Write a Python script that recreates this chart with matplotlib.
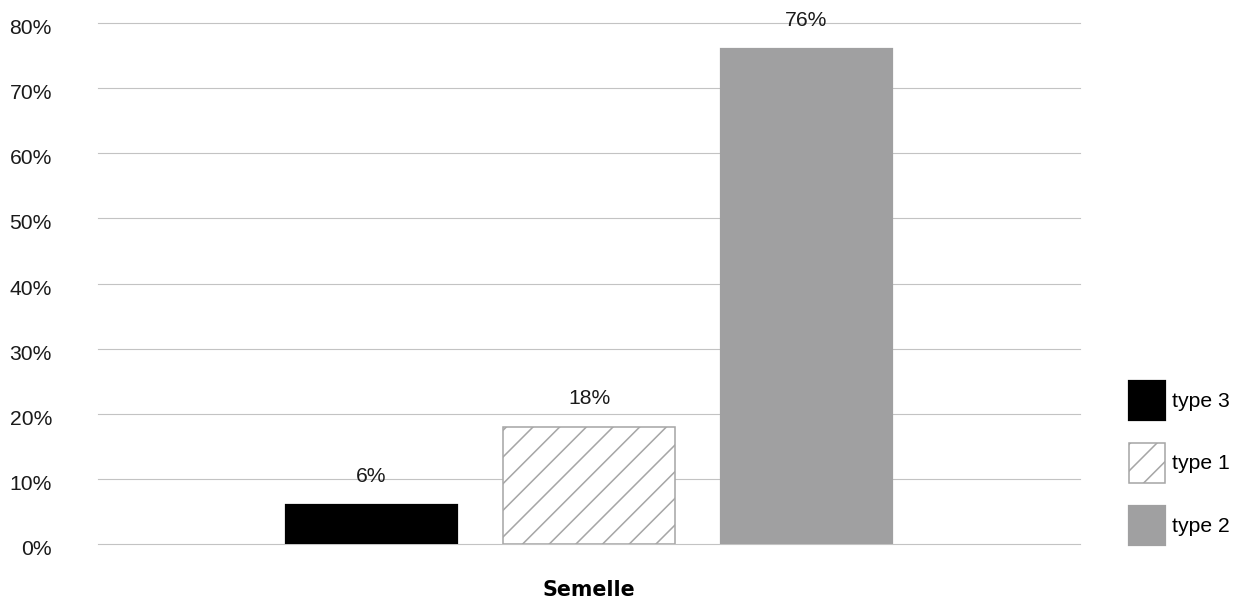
import matplotlib
matplotlib.use('Agg')
from matplotlib import pyplot as plt

# datos
categoria = 'Semelle'
series = ['type 3', 'type 1', 'type 2']
valores = [0.06, 0.18, 0.76]
etiquetas = ['6%', '18%', '76%']
marcas_y = [0, 0.1, 0.2, 0.3, 0.4, 0.5, 0.6, 0.7, 0.8]

plt.rcParams['font.family'] = ['Liberation Sans', 'DejaVu Sans']
plt.rcParams['hatch.linewidth'] = 0.7

DPI = 160
fig = plt.figure(figsize=(1242 / DPI, 603 / DPI), dpi=DPI)
ax = fig.add_axes([98 / 1242, 59 / 603, 982 / 1242, 521 / 603])

ancho = 0.175
paso = 0.2215
estilos = [
    dict(color='black', edgecolor='black'),
    dict(color='white', edgecolor='#a6a6a6', hatch='//', linewidth=0.7),
    dict(color='#a0a0a1', edgecolor='#a0a0a1'),
]
for i, (nombre, v, et) in enumerate(zip(series, valores, etiquetas)):
    x = (i - 1) * paso
    ax.bar(x, v, width=ancho, label=nombre, zorder=3, **estilos[i])
    ax.annotate(et, (x, v), xytext=(0, 13.6), textcoords='offset points',
                ha='center', va='center_baseline', fontsize=9.5, color='#1a1a1a')

ax.set_xlim(-0.5, 0.5)
ax.set_ylim(0, 0.8)
ax.set_yticks(marcas_y)
ax.set_yticklabels([])
# etiquetas del eje y, un poco por debajo de cada linea
for m in marcas_y:
    ax.annotate(f'{int(round(m * 100))}%', xy=(0, m), xycoords=('axes fraction', 'data'),
                xytext=(-20.7, -1.6), textcoords='offset points',
                ha='right', va='center_baseline', fontsize=9.5, color='#1a1a1a')
ax.set_xticks([0])
ax.set_xticklabels([categoria], fontweight='heavy', fontsize=9.3,
                   family=['DejaVu Sans'])
ax.tick_params(axis='y', length=0)
ax.tick_params(axis='x', length=0, pad=16)
ax.grid(axis='y', color='#c3c3c3', linewidth=0.5, zorder=0)
for g in ax.get_ygridlines():
    g.set_clip_on(False)
for s in ax.spines.values():
    s.set_visible(False)

fig.legend(loc='center left', bbox_to_anchor=(1129 / 1242, 1 - 463 / 603),
           frameon=False, fontsize=9.5, handlelength=1.7, handleheight=2.47,
           labelspacing=1.09, handletextpad=0.33, borderpad=0, borderaxespad=0)

fig.savefig('out.png', dpi=DPI)
